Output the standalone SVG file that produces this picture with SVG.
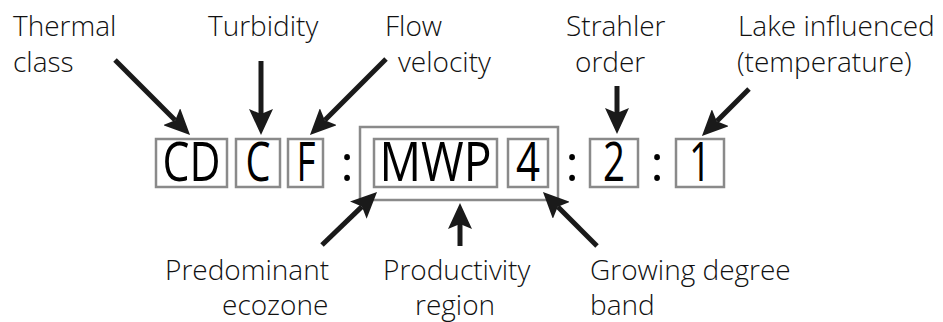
<svg xmlns="http://www.w3.org/2000/svg" width="943" height="322" viewBox="0 0 943 322">
<style>
.lbl{font-family:"Open Sans","Liberation Sans",sans-serif;font-size:28px;font-weight:300;fill:#111}
.code{font-family:"Open Sans","Liberation Sans",sans-serif;font-size:54px;font-weight:400;fill:#000;text-anchor:middle}
.colon{font-family:"Open Sans","Liberation Sans",sans-serif;font-size:50px;fill:#000;text-anchor:middle}
.box{fill:#fff;stroke:#8a8a8a;stroke-width:2.5}
.arrow{stroke:#1a1a1a;stroke-width:5;fill:none;marker-end:url(#ah)}
</style>
<defs>
<marker id="ah" viewBox="0 0 26 24" refX="5" refY="12" markerWidth="26" markerHeight="24" markerUnits="userSpaceOnUse" orient="auto">
<path d="M0,0 L26,12 L0,24 L5,12 z" fill="#1a1a1a"/>
</marker>
</defs>
<rect width="943" height="322" fill="#fff"/>
<g id="outer-group"><rect class="box" x="360" y="127" width="198" height="73"/></g>
<g id="node-CD"><rect class="box" x="156" y="139" width="71" height="48"/><text class="code" x="191.5" y="181" textLength="58" lengthAdjust="spacingAndGlyphs">CD</text></g>
<g id="node-C"><rect class="box" x="236" y="139" width="44" height="48"/><text class="code" x="258" y="181" textLength="25" lengthAdjust="spacingAndGlyphs">C</text></g>
<g id="node-F"><rect class="box" x="288" y="139" width="35" height="48"/><text class="code" x="306" y="181" textLength="19" lengthAdjust="spacingAndGlyphs">F</text></g>
<g id="colon1"><text class="colon" x="347" y="181">:</text></g>
<g id="node-MWP"><rect class="box" x="374" y="139" width="123" height="48"/><text class="code" x="435.5" y="181" textLength="112" lengthAdjust="spacingAndGlyphs">MWP</text></g>
<g id="node-4"><rect class="box" x="508" y="139" width="40" height="48"/><text class="code" x="528" y="181" textLength="24" lengthAdjust="spacingAndGlyphs">4</text></g>
<g id="colon2"><text class="colon" x="572" y="181">:</text></g>
<g id="node-2"><rect class="box" x="590" y="139" width="48" height="48"/><text class="code" x="614" y="181" textLength="22" lengthAdjust="spacingAndGlyphs">2</text></g>
<g id="colon3"><text class="colon" x="657" y="181">:</text></g>
<g id="node-1"><rect class="box" x="676" y="139" width="48" height="48"/><text class="code" x="700" y="181" textLength="22" lengthAdjust="spacingAndGlyphs">1</text></g>
<g id="label-thermal"><text class="lbl" x="13" y="36">Thermal</text><text class="lbl" x="13" y="72">class</text></g>
<g id="label-turbidity"><text class="lbl" x="208" y="36">Turbidity</text></g>
<g id="label-flow"><text class="lbl" x="385" y="36">Flow</text><text class="lbl" x="398" y="72">velocity</text></g>
<g id="label-strahler"><text class="lbl" x="566" y="36">Strahler</text><text class="lbl" x="575" y="72">order</text></g>
<g id="label-lake"><text class="lbl" x="738" y="36">Lake influenced</text><text class="lbl" x="737" y="72">(temperature)</text></g>
<g id="label-ecozone"><text class="lbl" x="165" y="280">Predominant</text><text class="lbl" x="222" y="315">ecozone</text></g>
<g id="label-productivity"><text class="lbl" x="383" y="280">Productivity</text><text class="lbl" x="415" y="315">region</text></g>
<g id="label-gdd"><text class="lbl" x="590" y="280">Growing degree</text><text class="lbl" x="590" y="315">band</text></g>
<g id="connectors">
<line class="arrow" x1="115" y1="60" x2="175.2" y2="120.2"/>
<line class="arrow" x1="261" y1="61" x2="261" y2="114"/>
<line class="arrow" x1="386" y1="59" x2="324.8" y2="120.2"/>
<line class="arrow" x1="617" y1="86" x2="617" y2="113"/>
<line class="arrow" x1="749" y1="89" x2="716.8" y2="121.2"/>
<line class="arrow" x1="322" y1="245" x2="361.9" y2="206.6"/>
<line class="arrow" x1="460" y1="246" x2="460" y2="224"/>
<line class="arrow" x1="597" y1="246" x2="557.8" y2="206.8"/>
</g>
</svg>
